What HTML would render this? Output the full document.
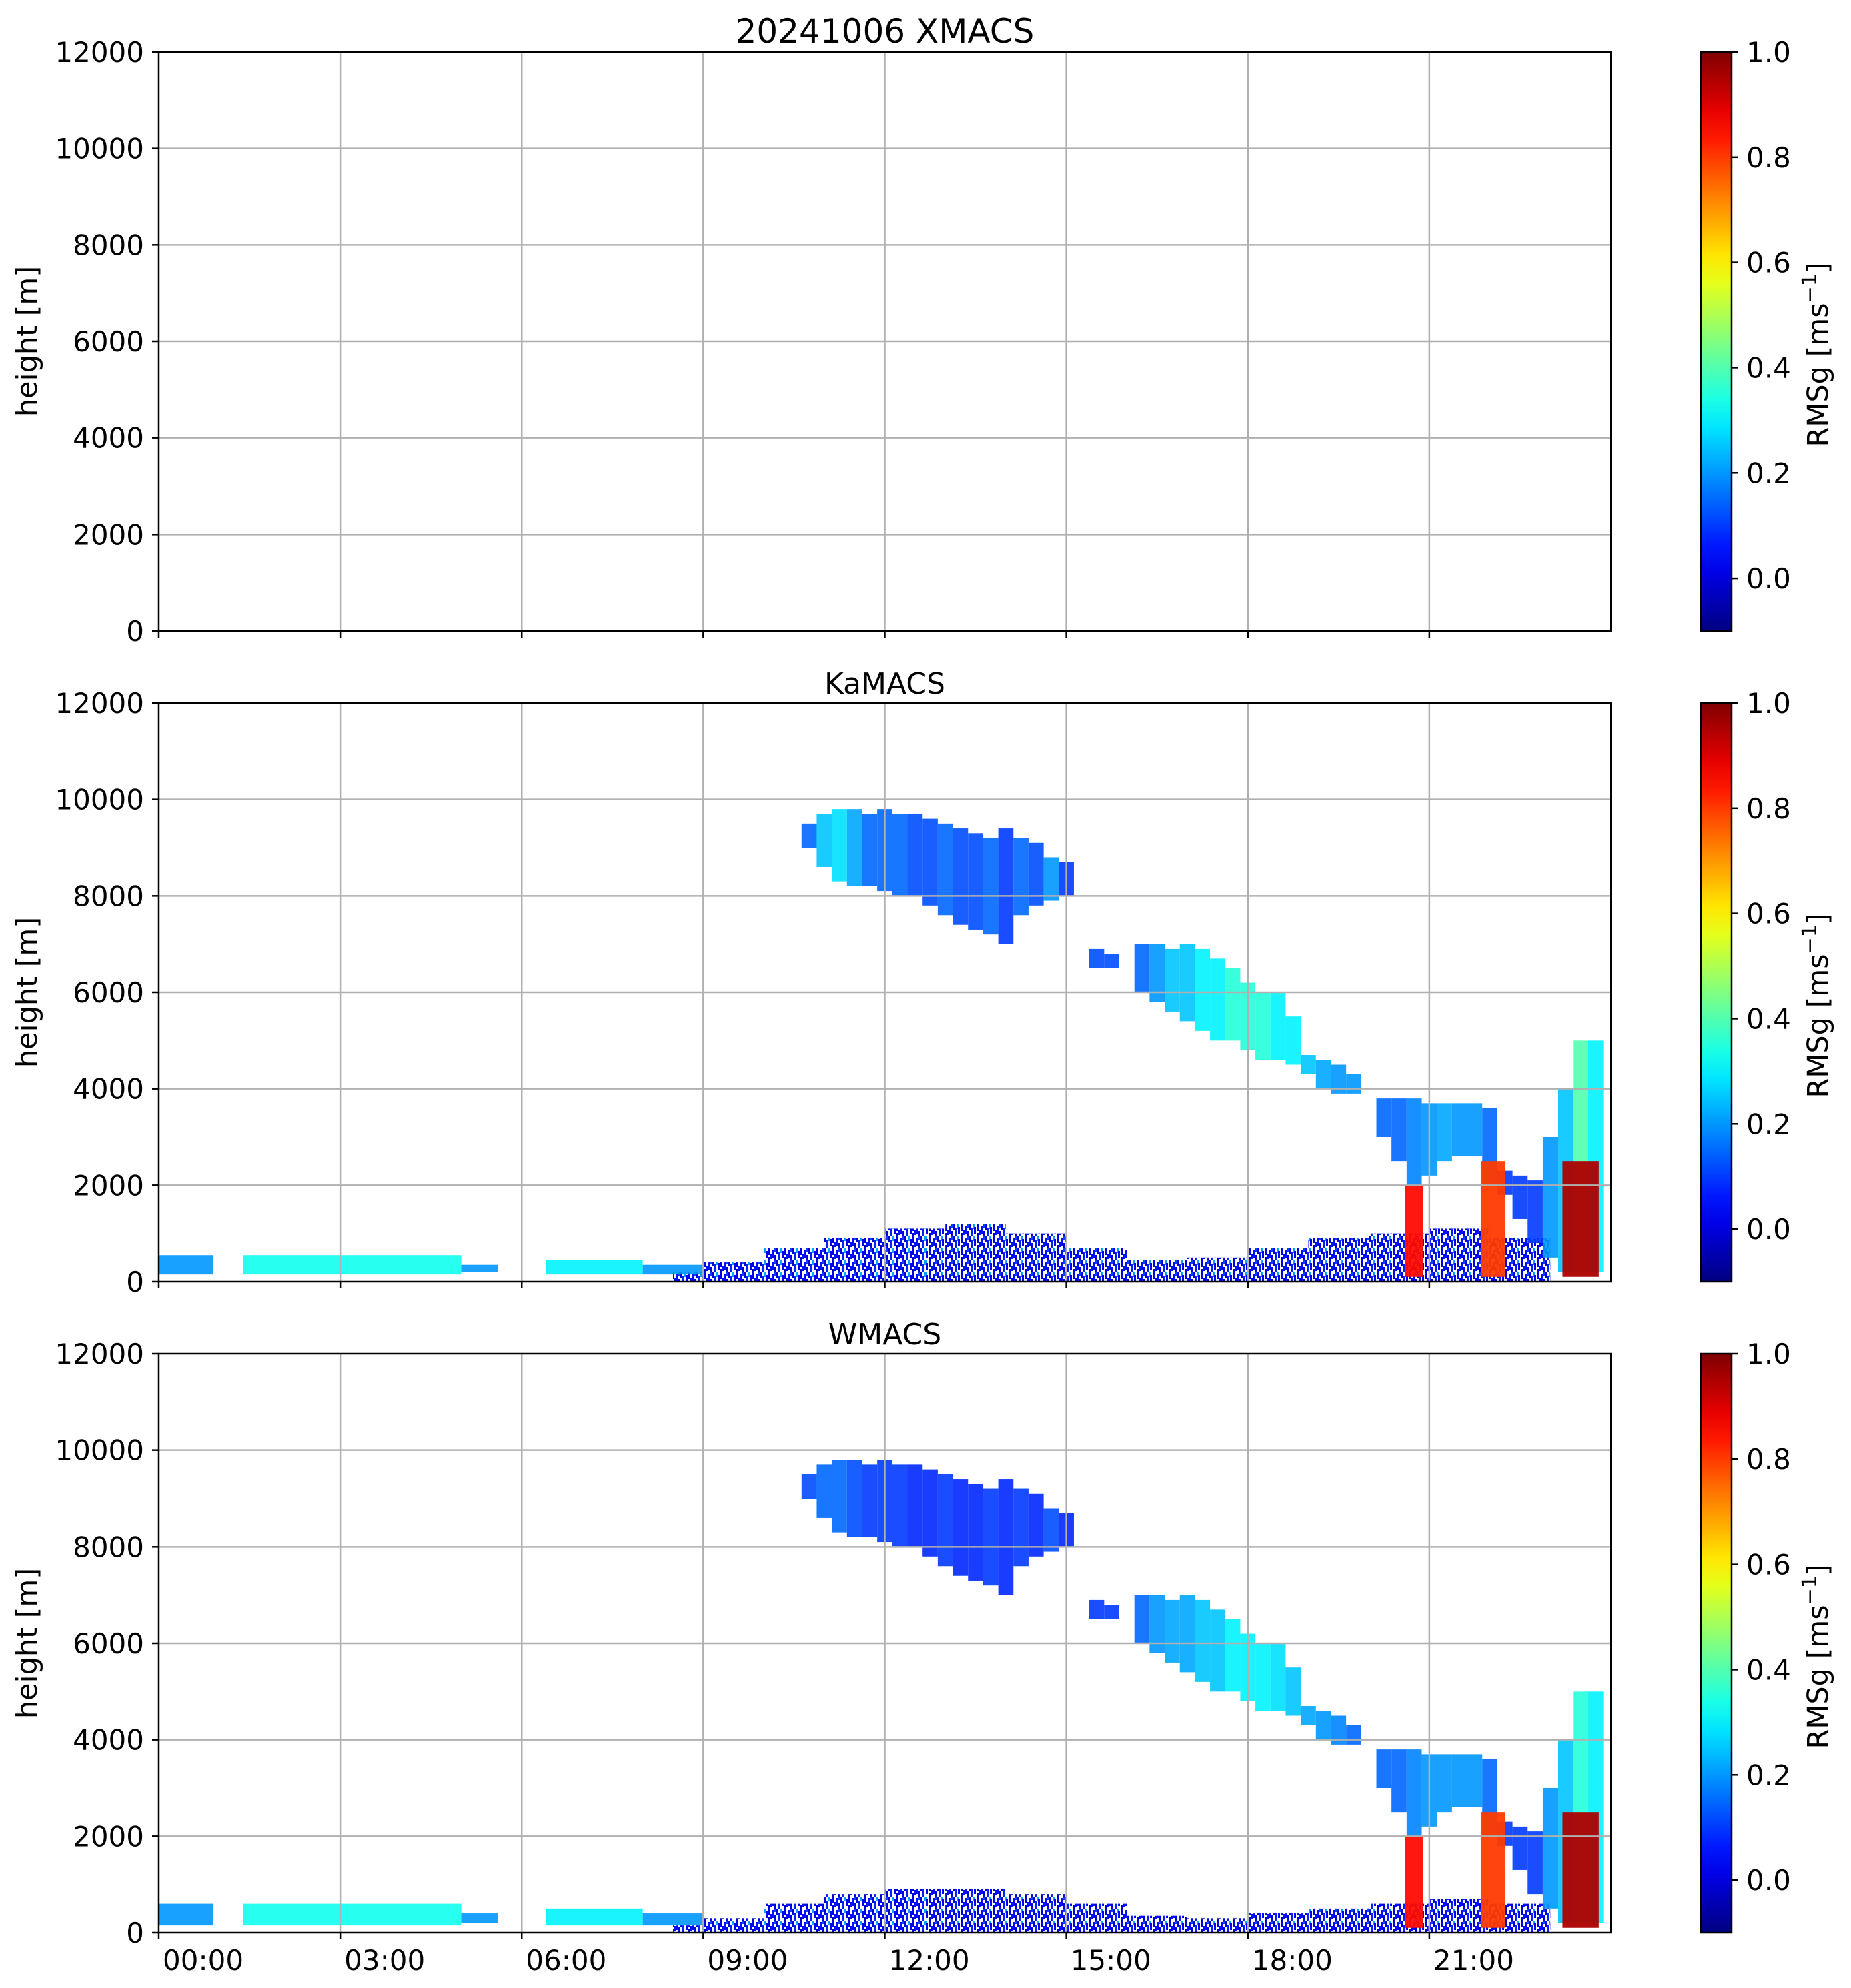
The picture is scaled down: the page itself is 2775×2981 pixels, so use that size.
<!DOCTYPE html>
<html><head><meta charset="utf-8">
<style>
html,body{margin:0;padding:0;background:#fff;}
svg{display:block;font-family:"DejaVu Sans","Liberation Sans",sans-serif;}
</style></head>
<body>
<svg id="fig" width="2775" height="2981" viewBox="0 0 2775 2981" xmlns="http://www.w3.org/2000/svg">
<defs>
<linearGradient id="jetgrad" x1="0" y1="1" x2="0" y2="0"></linearGradient>
<pattern id="speckle" width="24" height="18" patternUnits="userSpaceOnUse">
<rect x="0" y="0" width="3" height="10" fill="#0000e6"/>
<rect x="3" y="8" width="3" height="8" fill="#0010ff"/>
<rect x="6" y="2" width="3" height="12" fill="#0010ff"/>
<rect x="9" y="10" width="3" height="8" fill="#0000d8"/>
<rect x="12" y="0" width="3" height="9" fill="#0000d0"/>
<rect x="15" y="6" width="3" height="12" fill="#0020ff"/>
<rect x="18" y="0" width="3" height="7" fill="#00a0ff"/>
<rect x="20" y="4" width="3" height="10" fill="#0000f0"/>
<rect x="0" y="13" width="3" height="5" fill="#0000c8"/>
<rect x="9" y="0" width="3" height="5" fill="#1040ff"/>
</pattern>
</defs>
</svg>
<script>
// ---------- data ----------
const xTickLabels = ["00:00","03:00","06:00","09:00","12:00","15:00","18:00","21:00"];
const xTickHours = [0,3,6,9,12,15,18,21];
const yTicks = [0,2000,4000,6000,8000,10000,12000];
const cbTicks = [0.0,0.2,0.4,0.6,0.8,1.0];
const panelTitles = ["20241006 XMACS","KaMACS","WMACS"];

// low stratus segments [t0,t1,base,top,value]
const kaLowT0 = [0.0,1.4,5.0,6.4,8.0];
const kaLowT1 = [0.9,5.0,5.6,8.0,9.0];
const kaLowBase = [150,150,200,150,150];
const kaLowTop = [550,550,350,450,350];
const kaLowVal = [0.2,0.33,0.2,0.3,0.2];

// Ground clutter hump (hour, top height)
const kaClutT = [8.5,9,10,11,12,13,14,15,16,17,18,19,20,21,22,23];
const kaClutTop = [200,400,700,900,1100,1200,1000,700,450,500,700,900,1000,1100,900,700];
const wClutTop = [150,300,600,800,900,900,800,600,350,300,400,500,600,700,600,500];

// Cirrus columns
const ciT = [10.75,11,11.25,11.5,11.75,12,12.25,12.5,12.75,13,13.25,13.5,13.75,14,14.25,14.5,14.75,15];
const ciTop = [9500,9700,9800,9800,9700,9800,9700,9700,9600,9500,9400,9300,9200,9400,9200,9100,8800,8700];
const ciBase = [9000,8600,8300,8200,8200,8100,8000,8000,7800,7600,7400,7300,7200,7000,7600,7800,7900,8000];
const kaCiVal = [0.15,0.25,0.28,0.22,0.15,0.15,0.15,0.12,0.12,0.15,0.12,0.12,0.15,0.1,0.15,0.12,0.2,0.1];
const wCiVal = [0.12,0.15,0.15,0.12,0.1,0.1,0.1,0.08,0.08,0.1,0.08,0.08,0.1,0.08,0.1,0.08,0.12,0.08];

// Mid-level / lower descending cloud columns
const midT = [15.5,15.75,16.25,16.5,16.75,17,17.25,17.5,17.75,18,18.25,18.5,18.75,19,19.25,19.5,19.75,20.25,20.5,20.75,21,21.25,21.5,21.75,22,22.25,22.5,22.75,23,23.25,23.5,23.75];
const midTop = [6900,6800,7000,7000,6900,7000,6900,6700,6500,6200,6000,6000,5500,4700,4600,4500,4300,3800,3800,3800,3700,3700,3700,3700,3600,2300,2200,2100,3000,4000,5000,5000];
const midBase = [6500,6500,6000,5800,5600,5400,5200,5000,5000,4800,4600,4600,4500,4300,4000,3900,3900,3000,2500,2000,2200,2500,2600,2600,2000,1800,1300,800,500,200,200,200];
const kaMidVal = [0.12,0.12,0.15,0.2,0.25,0.25,0.3,0.3,0.35,0.35,0.35,0.3,0.3,0.25,0.22,0.2,0.2,0.15,0.15,0.18,0.2,0.22,0.2,0.2,0.15,0.1,0.1,0.1,0.2,0.25,0.4,0.3];
const wMidVal = [0.1,0.1,0.15,0.2,0.22,0.22,0.25,0.25,0.3,0.3,0.3,0.28,0.25,0.22,0.2,0.18,0.15,0.15,0.15,0.18,0.2,0.2,0.2,0.2,0.15,0.1,0.1,0.1,0.2,0.25,0.35,0.3];

// Convective columns [t0,t1,top,value]
const convT0 = [20.6,21.85,23.2];
const convT1 = [20.9,22.25,23.8];
const convTop = [2000,2500,2500];
const convVal = [0.85,0.8,0.95];

// ---------- layout ----------
const NS = "http://www.w3.org/2000/svg";
const svg = document.getElementById("fig");
const L = 238, R = 2415, PW = R - L;
const tops = [78, 1054, 2030];
const PH = 868;
const CBL = 2550, CBW = 46;
const yMax = 12000;

function jet(v){
  let x = (v + 0.1) / 1.1; x = Math.max(0, Math.min(1, x));
  const f = (a) => Math.max(0, Math.min(1, a));
  const r = f(Math.min(4*x - 1.5, -4*x + 4.5));
  const g = f(Math.min(4*x - 0.5, -4*x + 3.5));
  const b = f(Math.min(4*x + 0.5, -4*x + 2.5));
  return `rgb(${Math.round(r*255)},${Math.round(g*255)},${Math.round(b*255)})`;
}
function mk(tag, attrs, parent){
  const el = document.createElementNS(NS, tag);
  for (const k in attrs) el.setAttribute(k, attrs[k]);
  (parent || svg).appendChild(el);
  return el;
}
const xs = (h) => L + h / 24 * PW;
function ysFor(top){ return (v) => top + PH - v / yMax * PH; }

const grad = document.getElementById("jetgrad");
for (let i = 0; i <= 20; i++){
  const v = -0.1 + 1.1 * i / 20;
  mk("stop", {offset: (i/20*100)+"%", "stop-color": jet(v)}, grad);
}

function drawCol(g, t0, t1, base, top, val, ys, op, fill){
  const r = mk("rect", {x: xs(t0), y: ys(top), width: Math.max(1, xs(t1) - xs(t0)), height: Math.max(1, ys(base) - ys(top)), fill: fill || jet(val), opacity: op}, g);
  
  
}

for (let p = 0; p < 3; p++){
  const top = tops[p];
  const ys = ysFor(top);
  const g = mk("g", {});
  
  

  if (p > 0){
    const dg = mk("g", {}, g);
    
    
    const clut = p === 1 ? kaClutTop : wClutTop;
    for (let i = 0; i < kaClutT.length - 1; i++){
      drawCol(dg, kaClutT[i], kaClutT[i+1], 0, clut[i], 0.02, ys, 1, "url(#speckle)");
    }
    for (let i = 0; i < kaLowT0.length; i++){
      drawCol(dg, kaLowT0[i], kaLowT1[i], kaLowBase[i], kaLowTop[i] + (p === 2 ? 50 : 0), kaLowVal[i], ys, 0.9);
    }
    const ciVal = p === 1 ? kaCiVal : wCiVal;
    for (let i = 0; i < ciT.length; i++){
      drawCol(dg, ciT[i]-0.125, ciT[i]+0.125, ciBase[i], ciTop[i], ciVal[i], ys, 0.9);
    }
    const midVal = p === 1 ? kaMidVal : wMidVal;
    for (let i = 0; i < midT.length; i++){
      drawCol(dg, midT[i]-0.125, midT[i]+0.125, midBase[i], midTop[i], midVal[i], ys, 0.9);
    }
    for (let i = 0; i < convT0.length; i++){
      drawCol(dg, convT0[i], convT1[i], 100, convTop[i], convVal[i], ys, 0.95);
    }
  }

  for (let i = 1; i < xTickHours.length; i++){
    const gl = mk("line", {x1: xs(xTickHours[i]), x2: xs(xTickHours[i]), y1: top, y2: top+PH, stroke: "#b0b0b0", "stroke-width": 2.5}, g);
    
    
  }
  for (let i = 1; i < yTicks.length - 1; i++){
    const gl = mk("line", {x1: L, x2: R, y1: ys(yTicks[i]), y2: ys(yTicks[i]), stroke: "#b0b0b0", "stroke-width": 2.5}, g);
    
    
  }
  const fr = mk("rect", {x: L, y: top, width: PW, height: PH, fill: "none", stroke: "#000", "stroke-width": 2.5}, g);
  
  

  for (let i = 0; i < yTicks.length; i++){
    const y = ys(yTicks[i]);
    mk("line", {x1: L-10, x2: L, y1: y, y2: y, stroke: "#000", "stroke-width": 2.5}, g);
    const t = mk("text", {x: L-22, y: y + 15, "text-anchor": "end", "font-size": 42}, g);
    t.textContent = yTicks[i];
    
    
  }
  for (let i = 0; i < xTickHours.length; i++){
    const x = xs(xTickHours[i]);
    mk("line", {x1: x, x2: x, y1: top+PH, y2: top+PH+10, stroke: "#000", "stroke-width": 2.5}, g);
    if (p === 2){
      const t = mk("text", {x: x + 6, y: top+PH+56, "font-size": 42}, g);
      t.textContent = xTickLabels[i];
      
      
    }
  }
  const yl = mk("text", {x: 0, y: 0, "text-anchor": "middle", "font-size": 43, transform: `translate(55,${top+PH/2}) rotate(-90)`}, g);
  yl.textContent = "height [m]";
  
  
  const tt = mk("text", {x: L + PW/2, y: top - 14, "text-anchor": "middle", "font-size": p === 0 ? 50 : 44}, g);
  tt.textContent = panelTitles[p];
  
  

  const cb = mk("rect", {x: CBL, y: top, width: CBW, height: PH, fill: "url(#jetgrad)", stroke: "#000", "stroke-width": 2.5}, g);
  
  
  for (let i = 0; i < cbTicks.length; i++){
    const y = top + PH - (cbTicks[i] + 0.1) / 1.1 * PH;
    mk("line", {x1: CBL+CBW, x2: CBL+CBW+10, y1: y, y2: y, stroke: "#000", "stroke-width": 2.5}, g);
    const t = mk("text", {x: CBL+CBW+22, y: y + 15, "font-size": 42}, g);
    t.textContent = cbTicks[i].toFixed(1);
    
    
  }
  const cl = mk("text", {x: 0, y: 0, "text-anchor": "middle", "font-size": 43, transform: `translate(2740,${top+PH/2+20}) rotate(-90)`}, g);
  cl.innerHTML = 'RMSg [ms<tspan dy="-17" font-size="30">−1</tspan><tspan dy="17">]</tspan>';
  
  
}
</script>
</body></html>
